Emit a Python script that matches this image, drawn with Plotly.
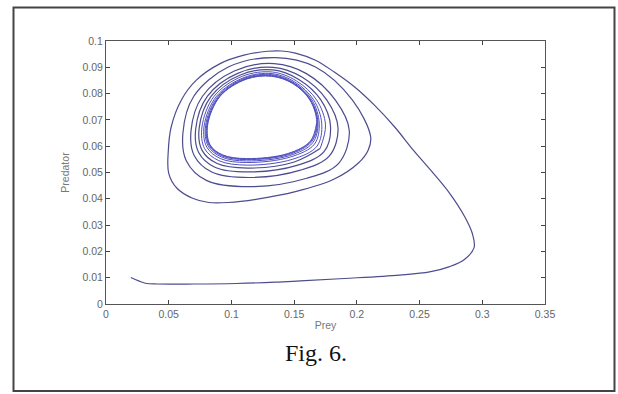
import plotly.graph_objects as go

# Trajectory (prey, predator), in path order
prey_transient = [0.0198, 0.026, 0.0314, 0.041, 0.07, 0.104, 0.135, 0.155, 0.19, 0.234, 0.258, 0.274,
                  0.286, 0.2935, 0.292, 0.286, 0.274, 0.261, 0.245, 0.230, 0.214, 0.198, 0.182,
                  0.167, 0.151, 0.140, 0.129, 0.110, 0.091, 0.072, 0.060, 0.052, 0.0497, 0.050,
                  0.0566, 0.069, 0.082, 0.0975, 0.1195, 0.151, 0.182, 0.201, 0.209]
pred_transient = [0.0101, 0.0088, 0.0079, 0.0076, 0.0076, 0.0078, 0.0083, 0.0088, 0.0097, 0.0110, 0.0122, 0.0142,
                  0.0170, 0.0215, 0.0269, 0.0332, 0.0421, 0.0497, 0.0585, 0.0674, 0.0756, 0.0826, 0.0882,
                  0.0927, 0.0954, 0.0962, 0.0961, 0.0946, 0.0914, 0.0851, 0.0775, 0.0674, 0.0585, 0.0497,
                  0.0440, 0.0402, 0.0386, 0.0386, 0.0398, 0.0427, 0.0475, 0.0535, 0.0585]

# spiral loops (right -> top -> left -> bottom), converging to the limit cycle
prey_loops = [
    [0.211, 0.1965, 0.167, 0.135, 0.0975, 0.070, 0.0613, 0.064, 0.080, 0.115, 0.160, 0.1855],
    [0.194, 0.1829, 0.1598, 0.134, 0.1023, 0.0769, 0.0678, 0.0703, 0.0843, 0.114, 0.155, 0.1781],
    [0.185, 0.1761, 0.1562, 0.1334, 0.1050, 0.0809, 0.0715, 0.0739, 0.0868, 0.1134, 0.1522, 0.1738],
    [0.179, 0.1713, 0.1537, 0.133, 0.1071, 0.0839, 0.0743, 0.0765, 0.0886, 0.113, 0.1501, 0.1707],
    [0.175, 0.1679, 0.1519, 0.1327, 0.1087, 0.0862, 0.0765, 0.0786, 0.0900, 0.1125, 0.1485, 0.1682],
    [0.172, 0.1656, 0.1506, 0.1324, 0.1100, 0.0881, 0.0782, 0.0803, 0.0912, 0.1122, 0.1471, 0.1662],
    [0.170, 0.1642, 0.1499, 0.1322, 0.1108, 0.0893, 0.0794, 0.0815, 0.0920, 0.1121, 0.1462, 0.1648],
    [0.169, 0.1632, 0.1494, 0.1321, 0.1114, 0.0902, 0.0802, 0.0822, 0.0925, 0.1120, 0.1456, 0.1639],
    [0.1685, 0.1628, 0.1492, 0.1320, 0.1118, 0.0907, 0.0807, 0.0827, 0.0928, 0.1120, 0.1452, 0.1634],
    [0.168, 0.1625, 0.1490, 0.1320, 0.1120, 0.0910, 0.0810, 0.0830, 0.0930, 0.1120, 0.1450, 0.1630],
]
pred_loops = [
    [0.0636, 0.0775, 0.0901, 0.0937, 0.0901, 0.0790, 0.0649, 0.0545, 0.0470, 0.0446, 0.0478, 0.0535],
    [0.0658, 0.0775, 0.0876, 0.0914, 0.0886, 0.0790, 0.0659, 0.0565, 0.0502, 0.0481, 0.0509, 0.0563],
    [0.0668, 0.0775, 0.0863, 0.0900, 0.0877, 0.0790, 0.0665, 0.0576, 0.0520, 0.0502, 0.0527, 0.0579],
    [0.0676, 0.0776, 0.0854, 0.0890, 0.0871, 0.0790, 0.0669, 0.0585, 0.0534, 0.0517, 0.0540, 0.0591],
    [0.0681, 0.0776, 0.0848, 0.0882, 0.0866, 0.0790, 0.0673, 0.0591, 0.0545, 0.0528, 0.0550, 0.0600],
    [0.0685, 0.0776, 0.0844, 0.0876, 0.0861, 0.0790, 0.0676, 0.0597, 0.0553, 0.0538, 0.0559, 0.0608],
    [0.0687, 0.0776, 0.0841, 0.0872, 0.0859, 0.0790, 0.0678, 0.0600, 0.0559, 0.0544, 0.0564, 0.0613],
    [0.0689, 0.0776, 0.0839, 0.0869, 0.0857, 0.0790, 0.0679, 0.0603, 0.0563, 0.0549, 0.0568, 0.0617],
    [0.0690, 0.0776, 0.0839, 0.0867, 0.0856, 0.0790, 0.0680, 0.0604, 0.0566, 0.0551, 0.0571, 0.0619],
    [0.0690, 0.0776, 0.0838, 0.0866, 0.0855, 0.0790, 0.0680, 0.0605, 0.0567, 0.0553, 0.0572, 0.0620],
]
prey_end = [0.1680]
pred_end = [0.0690]

x_ticks = [0, 0.05, 0.1, 0.15, 0.2, 0.25, 0.3, 0.35]
x_tick_text = ["0", "0.05", "0.1", "0.15", "0.2", "0.25", "0.3", "0.35"]
y_ticks = [0, 0.01, 0.02, 0.03, 0.04, 0.05, 0.06, 0.07, 0.08, 0.09, 0.1]
y_tick_text = ["0", "0.01", "0.02", "0.03", "0.04", "0.05", "0.06", "0.07", "0.08", "0.09", "0.1"]

# outer part of the path (transient + first loops)
n_outer = 4
prey_a = list(prey_transient)
pred_a = list(pred_transient)
for px_, py_ in zip(prey_loops[:n_outer], pred_loops[:n_outer]):
    prey_a += px_
    pred_a += py_
# inner, dense part (continues from the last outer point)
prey_b = [prey_a[-1]]
pred_b = [pred_a[-1]]
for px_, py_ in zip(prey_loops[n_outer:], pred_loops[n_outer:]):
    prey_b += px_
    pred_b += py_
prey_b += prey_end
pred_b += pred_end

fig = go.Figure()
fig.add_trace(go.Scatter(x=prey_a, y=pred_a, mode="lines",
                         line=dict(color="#4c4c8e", width=1.2, shape="spline", smoothing=1.0),
                         showlegend=False, hoverinfo="skip"))
fig.add_trace(go.Scatter(x=prey_b, y=pred_b, mode="lines",
                         line=dict(color="#5050c0", width=1.0, shape="spline", smoothing=1.0),
                         showlegend=False, hoverinfo="skip"))

axis_common = dict(showgrid=False, zeroline=False, showline=True, linecolor="#555555", linewidth=1,
                   mirror="ticks", ticks="inside", ticklen=4, tickcolor="#444444",
                   tickfont=dict(family="Liberation Sans, Arial", size=10.5, color="#666666"))
title_font = dict(family="Liberation Sans, Arial", size=10.5, color="#777777")

fig.update_layout(
    width=618, height=394,
    margin=dict(l=106, r=73, t=41, b=90),
    paper_bgcolor="white", plot_bgcolor="white",
    xaxis=dict(range=[0, 0.35], tickvals=x_ticks, ticktext=x_tick_text,
               title=dict(text="Prey", standoff=3, font=title_font),
               **axis_common),
    yaxis=dict(range=[0, 0.1], tickvals=y_ticks, ticktext=y_tick_text,
               title=dict(text="Predator", standoff=10, font=title_font),
               **axis_common),
    shapes=[dict(type="rect", xref="paper", yref="paper",
                 x0=-0.2107, x1=1.1583, y0=-0.3308, y1=1.1274,
                 line=dict(color="#444444", width=2), fillcolor="rgba(0,0,0,0)", layer="above")],
    annotations=[dict(text="Fig. 6.", xref="paper", yref="paper", x=0.478, y=-0.186,
                      xanchor="center", yanchor="middle", showarrow=False,
                      font=dict(family="Liberation Serif, DejaVu Serif", size=24, color="#111111"))],
)

fig.write_html("out.html")
